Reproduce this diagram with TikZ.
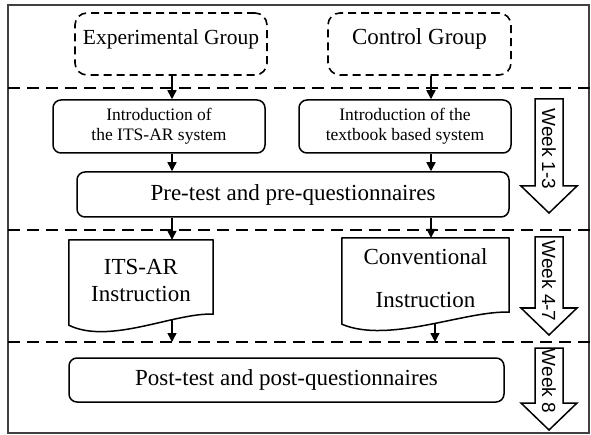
\documentclass[tikz,border=0pt]{standalone}
\usepackage{fontspec}
\setmainfont{Liberation Serif}
\newfontfamily\weekfont{Liberation Sans}
\usetikzlibrary{arrows.meta}

\begin{document}
\begin{tikzpicture}[
  x=1pt, y=-1pt,
  grp/.style={draw, dash pattern=on 8pt off 5pt, line width=1.6pt,
    rounded corners=12pt, minimum height=62pt, inner sep=0pt,
    text height=15pt, text depth=13pt},
  box/.style={draw, line width=1.5pt, rounded corners=8pt,
    align=center, inner sep=0pt},
  doc/.style={align=center, minimum height=80pt, inner sep=0pt},
  outline/.style={line width=1.5pt, line join=round},
  sep/.style={line width=2.6pt, dash pattern=on 12pt off 7pt},
  frame/.style={line width=1.5pt, draw=black!75},
  arrow/.style={-{Triangle[length=9pt,width=9pt]}, line width=1.5pt},
  weekarrow/.style={draw, line width=1.5pt},
  weeklbl/.style={rotate=-90, inner sep=0pt,
    font=\weekfont\fontsize{19}{19}\selectfont}
]
\useasboundingbox (0,0) rectangle (591,435);

% frame and week separators
\draw[frame] (8,5) rectangle (589,433);
\draw[sep] (8,88) coordinate (sep1) -- (591,88);
\draw[sep] (8,230) coordinate (sep2) -- (591,230);
\draw[sep] (8,342) coordinate (sep3) -- (591,342);

\coordinate (colL) at (172,0);
\coordinate (colR) at (431,0);

% groups
\node[grp, minimum width=192pt, font=\fontsize{21.5}{24}\selectfont]
  (exp) at (171,44) {Experimental Group};
\node[grp, minimum width=183pt, font=\fontsize{23}{26}\selectfont]
  (ctrl) at (419.5,44) {Control Group};

% week 1-3
\node[box, minimum width=212pt, minimum height=53pt,
  font=\fontsize{17.5}{20}\selectfont] (introL) at (159,126.5)
  {Introduction of\\the ITS-AR system};
\node[box, minimum width=212pt, minimum height=53pt,
  font=\fontsize{17.5}{20}\selectfont] (introR) at (405,126.5)
  {Introduction of the\\textbook based system};
\node[box, minimum width=432pt, minimum height=45pt,
  font=\fontsize{23}{26}\selectfont] (pre) at (293,194.5)
  {Pre-test and pre-questionnaires};

% week 4-7
\node[doc, minimum width=144pt, font=\fontsize{23}{27}\selectfont]
  (its) at (141,280) {ITS-AR\\Instruction};
\draw[outline] (its.north west) -- (its.north east)
  -- ([yshift=6pt]its.south east) .. controls +(-38,-2) and +(41,20)
  .. ([yshift=-5pt]its.south west) -- cycle;
\node[doc, minimum width=167pt, font=\fontsize{23}{43}\selectfont]
  (conv) at (425.5,278) {Conventional\\Instruction};
\draw[outline] (conv.north west) -- (conv.north east)
  -- ([yshift=6pt]conv.south east) .. controls +(-43,-2) and +(47,20)
  .. ([yshift=-6pt]conv.south west) -- cycle;

% week 8
\node[box, minimum width=435pt, minimum height=44pt,
  font=\fontsize{23}{26}\selectfont] (post) at (286.5,380)
  {Post-test and post-questionnaires};

\coordinate (itsout) at (172,319);
\coordinate (convout) at (435,323);

\draw[arrow] (colL |- exp.south) -- (colL |- introL.north);
\draw[arrow] (colR |- ctrl.south) -- (colR |- introR.north);
\draw[arrow] (colL |- introL.south) -- (colL |- pre.north);
\draw[arrow] (colR |- introR.south) -- (colR |- pre.north);
\draw[arrow] (colL |- pre.south) -- (colL |- its.north);
\draw[arrow] (colR |- pre.south) -- (colR |- conv.north);
\draw[arrow] (itsout) -- (itsout |- sep3);
\draw[arrow] (convout) -- (convout |- sep3);

% week arrows
\foreach \i/\ya/\yb/\yc/\ym/\txt in {1/99/186/213/149/{Week 1-3},
    2/237/308/335/281/{Week 4-7}, 3/348/403/430/381/{Week 8}} {
  \draw[weekarrow] (535,\ya) -- (563,\ya) -- (563,\yb) -- (577,\yb)
    -- (549,\yc) -- (521,\yb) -- (535,\yb) -- cycle;
  \node[weeklbl] (wk\i) at (549,\ym) {\txt};
}

\end{tikzpicture}
\end{document}
